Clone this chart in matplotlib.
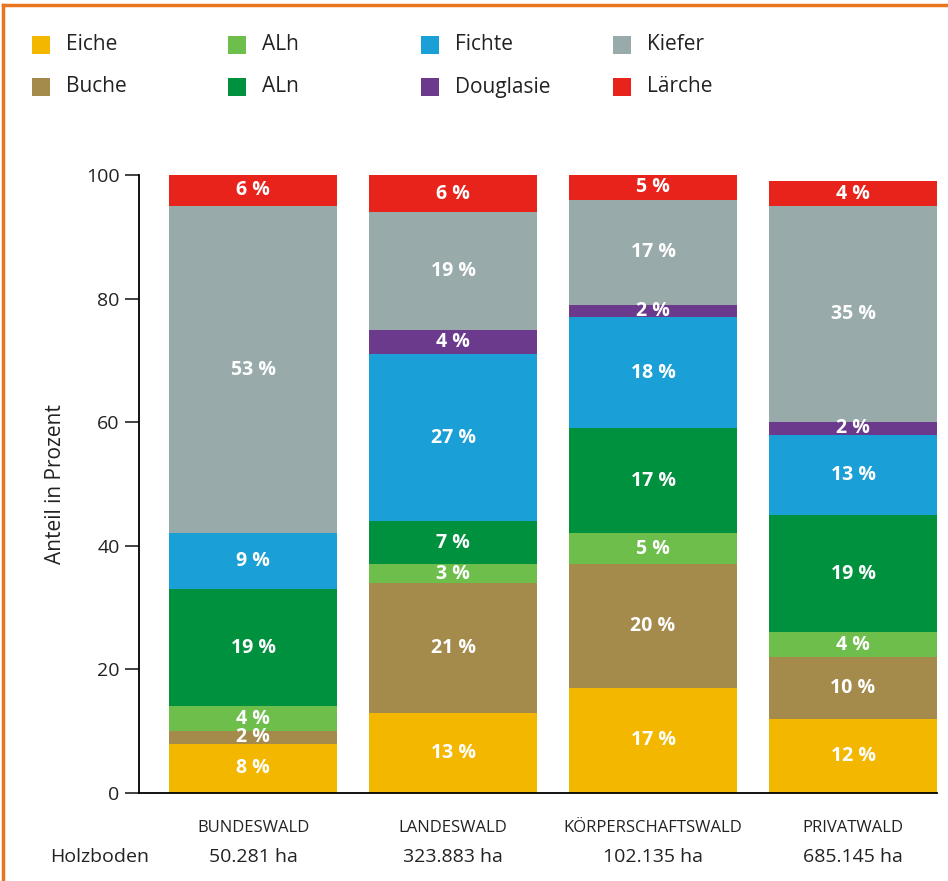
import matplotlib
matplotlib.use("Agg")
import matplotlib.pyplot as plt
from matplotlib.patches import Rectangle
from matplotlib.lines import Line2D
import numpy as np

plt.rcParams['font.family'] = ['Open Sans', 'DejaVu Sans']

# Ownership categories and forest area (Holzboden)
categories = ["BUNDESWALD", "LANDESWALD", "KÖRPERSCHAFTSWALD", "PRIVATWALD"]
areas = ["50.281 ha", "323.883 ha", "102.135 ha", "685.145 ha"]

# Tree species shares in percent, stacked bottom to top
species = ["Eiche", "Buche", "ALh", "ALn", "Fichte", "Douglasie", "Kiefer", "Lärche"]
eiche = [8, 13, 17, 12]
buche = [2, 21, 20, 10]
alh = [4, 3, 5, 4]
aln = [19, 7, 17, 19]
fichte = [9, 27, 18, 13]
douglasie = [0, 4, 2, 2]
kiefer = [53, 19, 17, 35]
laerche = [6, 6, 5, 4]

colors = ["#F4B700", "#A48B4C", "#6DBE4B", "#00913F",
          "#1A9FD6", "#6C3A8C", "#99AAAB", "#E8231C"]

series = [eiche, buche, alh, aln, fichte, douglasie, kiefer, laerche]

fig = plt.figure(figsize=(9.48, 8.81), dpi=100)
ax = fig.add_axes([139 / 948, 88 / 881, (937 - 139) / 948, (793 - 175) / 881])

x = np.arange(len(categories))
width = 0.84
ymax = 100
bottom = np.zeros(len(categories))
for name, vals, col in zip(species, series, colors):
    vals = np.array(vals, dtype=float)
    ax.bar(x, vals, width=width, bottom=bottom, color=col, edgecolor='none', label=name)
    for xi, b, v in zip(x, bottom, vals):
        if v > 0:
            # centre the label on the visible part of the segment
            top = min(b + v, ymax)
            ax.text(xi, (b + top) / 2, f"{int(v)} %", ha='center', va='center',
                    color='white', fontsize=14, fontweight='bold')
    bottom += vals

ax.set_xlim(-0.57, 3.42)
ax.set_ylim(0, ymax)
ax.set_yticks([0, 20, 40, 60, 80, 100])
ax.tick_params(axis='y', length=10, width=1.2, labelsize=14, colors='#222222', pad=4)
ax.set_xticks([])
for s in ['top', 'right']:
    ax.spines[s].set_visible(False)
ax.spines['left'].set_linewidth(1.3)
ax.spines['bottom'].set_linewidth(1.3)
ax.set_ylabel("Anteil in Prozent", fontsize=15, labelpad=14, color='#222222')

# Category names and areas below the bars
trans = ax.get_xaxis_transform()
for xi, cat, area in zip(x, categories, areas):
    ax.text(xi, -35 / 618, cat, transform=trans, ha='center', va='center',
            fontsize=12, color='#222222', clip_on=False)
    ax.text(xi, -64 / 618, area, transform=trans, ha='center', va='center',
            fontsize=14, color='#222222', clip_on=False)
fig.text(100 / 948, 1 - 857 / 881, "Holzboden", ha='center', va='center',
         fontsize=14, color='#222222')

# Legend: two rows, four columns
col_x = [32, 228, 421, 613]
row_y = [45, 87]
for i, (name, col) in enumerate(zip(species, colors)):
    c, r = divmod(i, 2)
    px, py = col_x[c], row_y[r]
    fig.add_artist(Rectangle((px / 948, 1 - (py + 9) / 881), 18 / 948, 18 / 881,
                             transform=fig.transFigure, facecolor=col,
                             edgecolor='none'))
    fig.text((px + 34) / 948, 1 - py / 881, name, ha='left', va='center',
             fontsize=15, color='#222222')

# Orange frame along top and left edges
orange = "#E8761E"
fig.add_artist(Line2D([3 / 948, 1], [1 - 5 / 881, 1 - 5 / 881],
                      transform=fig.transFigure, color=orange, linewidth=2.5))
fig.add_artist(Line2D([3 / 948, 3 / 948], [0, 1 - 5 / 881],
                      transform=fig.transFigure, color=orange, linewidth=2.5))

fig.savefig("out.png", dpi=100, facecolor='white')
